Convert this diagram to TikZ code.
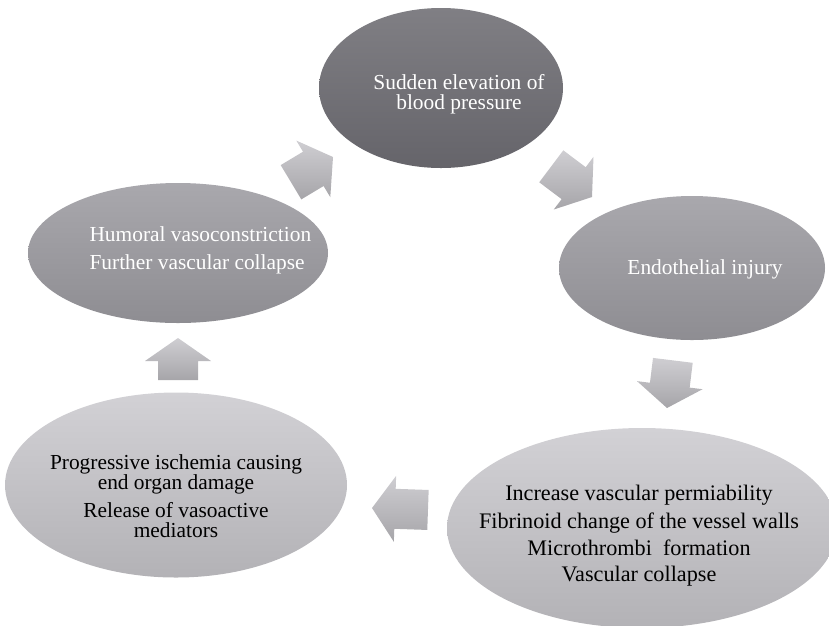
\documentclass[tikz,border=0pt]{standalone}
\usepackage{fontspec}
\setmainfont{Liberation Serif}
\usetikzlibrary{shapes.geometric}

\definecolor{topA}{HTML}{807F84}
\definecolor{topB}{HTML}{65646A}
\definecolor{midA}{HTML}{A9A8AD}
\definecolor{midB}{HTML}{8E8D92}
\definecolor{lowA}{HTML}{D2D1D5}
\definecolor{lowB}{HTML}{B3B2B6}
\definecolor{arrA}{HTML}{CFCED2}
\definecolor{arrB}{HTML}{A6A5A9}

% block arrow: tip, direction, length
\newcommand{\cyclearrow}[3]{%
  \shade[arrowshade, shift={#1}, rotate=#2]
    (0,0) -- (-23,33) -- (-23,20) -- (-#3,20) -- (-#3,-20) -- (-23,-20) -- (-23,-33) -- cycle;
}

\begin{document}
\begin{tikzpicture}[x=1pt, y=-1pt,
    bubble/.style={ellipse, inner sep=0pt, shading=axis},
    darkbubble/.style={bubble, top color=topA, bottom color=topB},
    midbubble/.style={bubble, top color=midA, bottom color=midB},
    lowbubble/.style={bubble, top color=lowA, bottom color=lowB},
    arrowshade/.style={top color=arrA, bottom color=arrB},
    whitetext/.style={text=white, font=\fontsize{21.4}{20}\selectfont},
    blacktext/.style={text=black, font=\fontsize{21.4}{20}\selectfont}]
  \useasboundingbox (0,0) rectangle (829,625);
  \clip (0,0) rectangle (829,625);

  % the five stages
  \node[darkbubble, minimum width=244pt, minimum height=160pt] (rise) at (441,88) {};
  \node[midbubble, minimum width=266pt, minimum height=144pt] (endo) at (692,268) {};
  \node[lowbubble, minimum width=390pt, minimum height=200pt] (perm) at (642,528) {};
  \node[lowbubble, minimum width=342pt, minimum height=185pt] (isch) at (176,485) {};
  \node[midbubble, minimum width=300pt, minimum height=140pt] (humo) at (178,253) {};

  \node[whitetext, align=center] (riseText) at (459,94) {Sudden elevation of\\blood pressure};
  \node[whitetext] (endoText) at (705,269) {Endothelial injury};
  \node[blacktext, font=\fontsize{22.2}{20}\selectfont, align=center] (permText) at (639,536)
    {Increase vascular permiability\\[6pt]Fibrinoid change of the vessel walls\\[6pt]Microthrombi\ \ formation\\[6pt]Vascular collapse};
  \node[blacktext, align=center] (ischText) at (176,496)
    {Progressive ischemia causing\\end organ damage\\[8pt]Release of vasoactive\\mediators};
  \node[whitetext, align=left, anchor=west] (humoText) at (86,250)
    {Humoral vasoconstriction\\[8pt]Further vascular collapse};

  % arrows round the cycle
  \cyclearrow{(592,197)}{-37}{51}
  \cyclearrow{(667,408)}{-97}{48}
  \cyclearrow{(372,508)}{178}{56}
  \cyclearrow{(178,338)}{90}{42}
  \cyclearrow{(333,157)}{31}{49}
\end{tikzpicture}
\end{document}
